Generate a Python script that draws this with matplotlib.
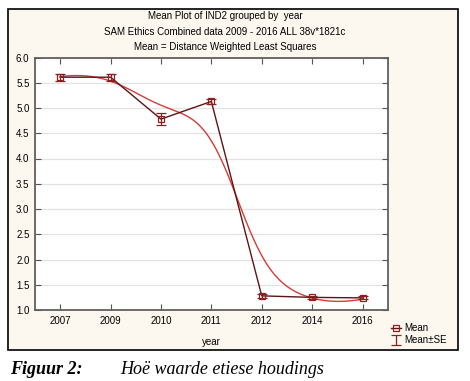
import numpy as np
import matplotlib
matplotlib.use('Agg')
import matplotlib.pyplot as plt
from matplotlib.patches import Rectangle
from matplotlib.lines import Line2D

years = ['2007', '2009', '2010', '2011', '2012', '2014', '2016']
means = [5.61, 5.61, 4.78, 5.13, 1.28, 1.25, 1.24]
se = [0.07, 0.07, 0.12, 0.05, 0.04, 0.03, 0.03]

title_lines = ['Mean Plot of IND2 grouped by  year',
               'SAM Ethics Combined data 2009 - 2016 ALL 38v*1821c',
               'Mean = Distance Weighted Least Squares']
yticks = [1.0, 1.5, 2.0, 2.5, 3.0, 3.5, 4.0, 4.5, 5.0, 5.5, 6.0]


def dwls(x, y, xs, eps=1.875):
    """Distance weighted least squares (McLain-type weights, local quadratic)."""
    out = []
    for x0 in xs:
        d = x - x0
        w = 1.0 / (d ** 2 + eps) ** 2
        A = np.vstack([np.ones_like(d), d, d ** 2]).T
        sw = np.sqrt(w)
        coef, *_ = np.linalg.lstsq(A * sw[:, None], y * sw, rcond=None)
        out.append(coef[0])
    return np.array(out)


plt.rcParams['font.family'] = ['Liberation Sans', 'DejaVu Sans']
fig = plt.figure(figsize=(4.7, 3.81), dpi=100)
W, H = 470, 381
fig.patches.append(Rectangle((8 / W, 1 - 350 / H), 450 / W, 341 / H,
                             transform=fig.transFigure, facecolor='#fdf8ef',
                             edgecolor='black', linewidth=1.2, zorder=-10))

ax = fig.add_axes([35 / W, 1 - 310 / H, 352.7 / W, 252.5 / H])
ax.set_zorder(1)
ax.set_facecolor('white')
x = np.arange(len(years), dtype=float)
m = np.array(means)

xs = np.linspace(0, len(years) - 1, 400)
ax.plot(xs, dwls(x, m, xs), color='#d43c36', lw=1.0, zorder=3)

ax.plot(x, m, color='#5e1414', lw=1.0, marker='s', ms=5, mfc='none',
        mec='#8a2020', mew=0.9, zorder=4)
eb = ax.errorbar(x, m, yerr=se, fmt='none', ecolor='#8a2020', elinewidth=0.9,
                 capsize=3.6, capthick=0.9, zorder=5, label='Mean±SE')

ax.set_xlim(-0.5, 6.5)
ax.set_ylim(1.0, 6.0)
ax.set_xticks(x)
ax.set_xticklabels(years)
ax.set_yticks(yticks)
ax.set_yticklabels([f'{v:.1f}' for v in yticks])
ax.yaxis.grid(True, color='#e2e2e2', lw=0.9)
ax.set_axisbelow(True)
ax.tick_params(direction='in', length=4, width=0.8, color='#555555',
               labelsize=7, top=True, right=True, pad=4)
for s in ax.spines.values():
    s.set_color('#606060')
    s.set_linewidth(1.3)
ax.set_xlabel('year', fontsize=7, labelpad=8)

for t, yy in zip(title_lines, [16, 32, 47.5]):
    fig.text(225 / W, 1 - yy / H, t, ha='center', va='center', fontsize=7)

h_mean = Line2D([], [], color='#5e1414', lw=1.0, marker='s', ms=5,
                mfc='none', mec='#8a2020', mew=0.9)
fig.legend([h_mean, eb], ['Mean', 'Mean±SE'], loc='upper left',
           bbox_to_anchor=(391 / W, 1 - 323 / H), frameon=False, fontsize=7,
           handlelength=1.0, handletextpad=0.4, labelspacing=0.25,
           borderaxespad=0, borderpad=0)

fig.text(10 / W, 1 - 370 / H, 'Figuur 2:', ha='left', va='center',
         fontsize=13, family='Liberation Serif', style='italic',
         weight='bold')
fig.text(120 / W, 1 - 370 / H, 'Hoë waarde etiese houdings', ha='left',
         va='center', fontsize=13, family='Liberation Serif',
         style='italic')

fig.savefig('out.png', dpi=100, facecolor='white')
